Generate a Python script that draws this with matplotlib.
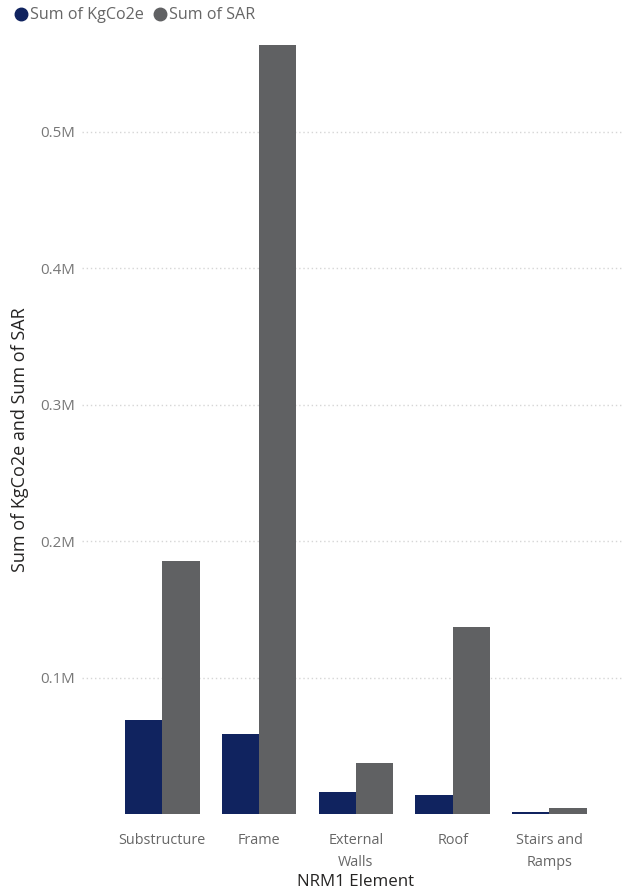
import numpy as np
import matplotlib.pyplot as plt
from matplotlib.lines import Line2D

plt.rcParams['font.family'] = ['Open Sans', 'DejaVu Sans']

# NRM1 elements and the two summed measures
elements = ['Substructure', 'Frame', 'External\nWalls', 'Roof', 'Stairs and\nRamps']
kgco2e = [68900, 58700, 16300, 13900, 1700]
sar = [185700, 563800, 37200, 137000, 4200]

navy = '#10235f'
grey = '#606163'

fig = plt.figure(figsize=(6.23, 8.90), dpi=100)
ax = fig.add_axes([0.1316, 0.0854, 0.8684, 0.8696])

x = np.arange(len(elements))
w = 0.385
ax.bar(x - w / 2, kgco2e, width=w, color=navy, zorder=3)
ax.bar(x + w / 2, sar, width=w, color=grey, zorder=3)

ax.set_xlim(-0.83, 4.76)
ax.set_ylim(0, 567400)

yt = [100000, 200000, 300000, 400000, 500000]
ax.set_yticks(yt)
ax.set_yticklabels([f'{v / 1e6:.1f}M' for v in yt], color='#777777', fontsize=10.8)
ax.set_xticks(x)
ax.set_xticklabels(elements, color='#666666', fontsize=10.4, linespacing=1.6)
ax.tick_params(length=0, pad=5)
ax.tick_params(axis='x', pad=14)

ax.grid(axis='y', linestyle=(0, (1, 2)), color='#d6d6d6', linewidth=1, zorder=0)
for s in ax.spines.values():
    s.set_visible(False)

ax.set_xlabel('NRM1 Element', color='#252423', fontsize=12.2, labelpad=0)
ax.xaxis.set_label_coords(0.505, -0.078)
ax.set_ylabel('Sum of KgCo2e and Sum of SAR', color='#252423', fontsize=13)
ax.yaxis.set_label_coords(-0.098, 0.484)

handles = [
    Line2D([], [], marker='o', linestyle='', color=navy, markersize=9),
    Line2D([], [], marker='o', linestyle='', color=grey, markersize=9),
]
leg = fig.legend(handles, ['Sum of KgCo2e', 'Sum of SAR'], loc='upper left',
                 bbox_to_anchor=(-0.004, 1.008), ncol=2, frameon=False,
                 handletextpad=0.0, columnspacing=0.45, handlelength=1.1,
                 fontsize=11.6)
for t in leg.get_texts():
    t.set_color('#666666')

fig.savefig('out.png', dpi=100)
